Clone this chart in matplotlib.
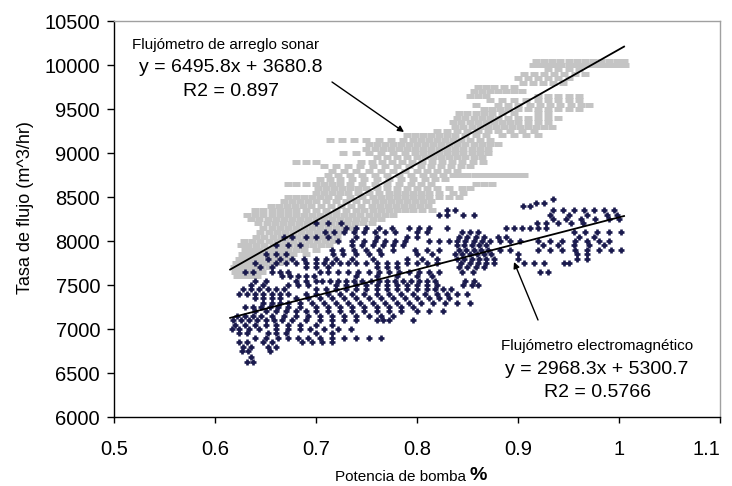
import matplotlib
matplotlib.use("Agg")
import matplotlib.pyplot as plt

# ---- data -------------------------------------------------------------
# Readings grouped by flow level (m^3/hr); each level lists the pump power
# fractions at which that flow was logged.
sonar_flow = [7600, 7650, 7700, 7750, 7800, 7850, 7900, 7950, 8000, 8050,
              8100, 8150, 8200, 8250, 8300, 8350, 8400, 8450, 8500, 8550,
              8600, 8650, 8700, 8750, 8800, 8850, 8900, 8950, 9000, 9050,
              9100, 9150, 9200, 9250, 9300, 9350, 9400, 9450, 9500, 9550,
              9600, 9650, 9700, 9750, 9800, 9850, 9900, 9950, 10000, 10050]
sonar_power = [
    [0.622, 0.629, 0.636, 0.642],
    [0.620, 0.627, 0.633, 0.640, 0.647],
    [0.619, 0.625, 0.632, 0.639, 0.646, 0.653],
    [0.621, 0.628, 0.635, 0.642, 0.649, 0.656, 0.663],
    [0.624, 0.631, 0.638, 0.645, 0.652, 0.659, 0.666, 0.674],
    [0.627, 0.634, 0.641, 0.648, 0.655, 0.662, 0.669, 0.677, 0.690],
    [0.630, 0.637, 0.644, 0.651, 0.658, 0.665, 0.672, 0.680, 0.688, 0.700],
    [0.626, 0.633, 0.641, 0.649, 0.657, 0.665, 0.673, 0.681, 0.689, 0.697, 0.705, 0.713],
    [0.629, 0.637, 0.645, 0.653, 0.661, 0.669, 0.677, 0.685, 0.693, 0.701, 0.709, 0.717],
    [0.641, 0.649, 0.657, 0.665, 0.673, 0.681, 0.689, 0.697, 0.705, 0.713, 0.721],
    [0.645, 0.653, 0.661, 0.669, 0.677, 0.685, 0.693, 0.701, 0.709, 0.717, 0.725],
    [0.648, 0.656, 0.664, 0.672, 0.680, 0.688, 0.696, 0.704, 0.712, 0.720, 0.728, 0.736],
    [0.643, 0.651, 0.659, 0.667, 0.675, 0.683, 0.691, 0.699, 0.707, 0.715, 0.723, 0.731,
     0.739, 0.747, 0.755],
    [0.636, 0.644, 0.652, 0.660, 0.668, 0.676, 0.684, 0.692, 0.700, 0.708, 0.716, 0.724,
     0.732, 0.740, 0.748, 0.756, 0.764],
    [0.632, 0.640, 0.648, 0.656, 0.664, 0.672, 0.680, 0.688, 0.696, 0.704, 0.712, 0.720,
     0.728, 0.736, 0.744, 0.752, 0.760, 0.768, 0.776],
    [0.640, 0.648, 0.656, 0.664, 0.672, 0.680, 0.690, 0.700, 0.710, 0.720, 0.730, 0.740,
     0.748, 0.756, 0.764, 0.772, 0.780, 0.788, 0.796, 0.805, 0.815],
    [0.655, 0.663, 0.671, 0.679, 0.687, 0.695, 0.705, 0.715, 0.725, 0.735, 0.745, 0.755,
     0.763, 0.771, 0.779, 0.787, 0.795, 0.803, 0.811],
    [0.668, 0.676, 0.684, 0.692, 0.700, 0.710, 0.720, 0.730, 0.740, 0.750, 0.758, 0.766,
     0.774, 0.782, 0.790, 0.798, 0.806, 0.814],
    [0.672, 0.680, 0.688, 0.696, 0.704, 0.712, 0.722, 0.734, 0.746, 0.756, 0.764, 0.772,
     0.780, 0.788, 0.796, 0.804, 0.812, 0.822, 0.832, 0.842],
    [0.700, 0.708, 0.716, 0.724, 0.732, 0.742, 0.752, 0.762, 0.772, 0.780, 0.788, 0.796,
     0.804, 0.812, 0.822, 0.836, 0.846],
    [0.702, 0.710, 0.718, 0.726, 0.734, 0.742, 0.750, 0.760, 0.770, 0.780, 0.790, 0.800,
     0.810, 0.820, 0.832, 0.845, 0.852],
    [0.672, 0.680, 0.690, 0.700, 0.708, 0.716, 0.724, 0.734, 0.746, 0.758, 0.770, 0.782,
     0.794, 0.804, 0.814, 0.858, 0.866, 0.874],
    [0.704, 0.714, 0.724, 0.736, 0.748, 0.760, 0.772, 0.784, 0.796, 0.808, 0.818, 0.828],
    [0.712, 0.722, 0.734, 0.746, 0.758, 0.770, 0.782, 0.794, 0.806, 0.816, 0.826, 0.836,
     0.843, 0.850, 0.857, 0.864, 0.871, 0.878, 0.885, 0.892, 0.899, 0.906],
    [0.716, 0.728, 0.740, 0.752, 0.764, 0.776, 0.788, 0.800, 0.810, 0.820, 0.830, 0.840],
    [0.708, 0.720, 0.732, 0.744, 0.756, 0.768, 0.780, 0.792, 0.804, 0.814, 0.824, 0.834,
     0.844, 0.852],
    [0.680, 0.690, 0.700, 0.745, 0.755, 0.765, 0.775, 0.785, 0.795, 0.805, 0.815, 0.825,
     0.835, 0.845, 0.855, 0.865],
    [0.760, 0.770, 0.780, 0.790, 0.800, 0.808, 0.816, 0.824, 0.832, 0.840, 0.848, 0.856,
     0.864],
    [0.727, 0.740, 0.752, 0.764, 0.776, 0.788, 0.798, 0.806, 0.814, 0.822, 0.830, 0.838,
     0.846, 0.854, 0.862, 0.870],
    [0.750, 0.758, 0.766, 0.774, 0.782, 0.790, 0.798, 0.806, 0.814, 0.822, 0.830, 0.838,
     0.846, 0.854, 0.862, 0.870],
    [0.752, 0.760, 0.768, 0.776, 0.784, 0.792, 0.800, 0.808, 0.816, 0.824, 0.832, 0.840,
     0.848, 0.856, 0.864, 0.872, 0.880],
    [0.714, 0.726, 0.738, 0.750, 0.762, 0.774, 0.786, 0.796, 0.804, 0.812, 0.820, 0.828,
     0.836, 0.844, 0.852, 0.862, 0.872],
    [0.790, 0.798, 0.806, 0.814, 0.822, 0.830, 0.838, 0.848, 0.858, 0.868, 0.884, 0.896,
     0.908, 0.920],
    [0.820, 0.830, 0.840, 0.850, 0.860, 0.870, 0.880, 0.892, 0.904, 0.916],
    [0.838, 0.846, 0.854, 0.862, 0.870, 0.878, 0.886, 0.894, 0.902, 0.910, 0.918, 0.926,
     0.934],
    [0.836, 0.844, 0.852, 0.860, 0.868, 0.876, 0.884, 0.892, 0.900, 0.910, 0.920, 0.930],
    [0.840, 0.848, 0.856, 0.864, 0.872, 0.880, 0.890, 0.900, 0.910, 0.920, 0.930, 0.940],
    [0.842, 0.850, 0.858, 0.866, 0.874, 0.884, 0.896, 0.920, 0.930],
    [0.866, 0.874, 0.882, 0.890, 0.900, 0.910, 0.920, 0.930, 0.940, 0.950, 0.960],
    [0.858, 0.880, 0.890, 0.900, 0.912, 0.922, 0.932, 0.942, 0.952, 0.962, 0.970],
    [0.872, 0.884, 0.896, 0.908, 0.920, 0.930, 0.940, 0.950, 0.960],
    [0.852, 0.860, 0.868, 0.920, 0.930, 0.940, 0.950, 0.960],
    [0.856, 0.864, 0.872, 0.880, 0.888, 0.896, 0.904],
    [0.860, 0.868, 0.876, 0.886, 0.896],
    [0.905, 0.915, 0.925, 0.935, 0.945],
    [0.900, 0.910, 0.920, 0.930, 0.940, 0.950],
    [0.906, 0.916, 0.926, 0.936, 0.946, 0.956, 0.966],
    [0.930, 0.940, 0.950, 0.960],
    [0.915, 0.922, 0.929, 0.936, 0.943, 0.950, 0.957, 0.964, 0.971, 0.978, 0.985, 0.992,
     0.999, 1.006],
    [0.918, 0.926, 0.934, 0.942, 0.950, 0.958, 0.966, 0.974, 0.982, 0.990, 0.998, 1.005],
]

em_flow = [8480, 8430, 8400, 8350, 8300, 8250, 8200, 8150, 8100, 8050, 8000,
           7950, 7900, 7850, 7800, 7750, 7700, 7650, 7600, 7550, 7500, 7450,
           7400, 7350, 7300, 7250, 7200, 7150, 7100, 7050, 7000, 6950, 6900,
           6850, 6800, 6750, 6680, 6630]
em_power = [
    [0.935],
    [0.918, 0.926],
    [0.905, 0.912],
    [0.830, 0.838, 0.935, 0.945, 0.955, 0.965, 0.975, 0.985, 0.995],
    [0.822, 0.830, 0.846, 0.856, 0.932, 0.950, 0.968, 0.988, 0.998],
    [0.935, 0.948, 0.962, 0.976, 0.990, 1.000],
    [0.700, 0.712, 0.725, 0.919, 0.928, 0.940, 0.952, 0.964],
    [0.730, 0.740, 0.750, 0.762, 0.775, 0.792, 0.802, 0.812, 0.830, 0.888, 0.896, 0.904,
     0.912, 0.920, 0.928],
    [0.709, 0.718, 0.728, 0.738, 0.748, 0.758, 0.768, 0.778, 0.800, 0.810, 0.845, 0.852,
     0.860, 0.955, 0.966, 0.978, 0.990, 1.002],
    [0.668, 0.676, 0.690, 0.700, 0.712, 0.740, 0.760, 0.790, 0.800, 0.842, 0.850, 0.858,
     0.866, 0.880, 0.888, 0.960, 0.975],
    [0.722, 0.736, 0.748, 0.758, 0.768, 0.778, 0.788, 0.812, 0.822, 0.832, 0.840, 0.848,
     0.856, 0.864, 0.872, 0.882, 0.892, 0.902, 0.920, 0.932, 0.944, 0.956, 0.968, 0.980,
     0.990],
    [0.660, 0.672, 0.684, 0.736, 0.746, 0.756, 0.766, 0.776, 0.786, 0.840, 0.847, 0.854,
     0.861, 0.868, 0.925, 0.940, 0.955, 0.970, 0.985],
    [0.716, 0.726, 0.738, 0.750, 0.762, 0.776, 0.798, 0.810, 0.822, 0.842, 0.849, 0.856,
     0.863, 0.870, 0.882, 0.892, 0.920, 0.932, 0.944, 0.956, 0.968, 0.980, 0.992, 1.002],
    [0.650, 0.660, 0.670, 0.717, 0.727, 0.740, 0.752, 0.764, 0.800, 0.815, 0.838, 0.845,
     0.852, 0.859, 0.866, 0.873, 0.900, 0.958, 0.968],
    [0.652, 0.664, 0.676, 0.688, 0.700, 0.710, 0.720, 0.736, 0.756, 0.790, 0.805, 0.820,
     0.840, 0.847, 0.854, 0.861, 0.868, 0.876, 0.900, 0.958, 0.968],
    [0.640, 0.660, 0.670, 0.680, 0.690, 0.700, 0.708, 0.716, 0.724, 0.732, 0.740, 0.750,
     0.760, 0.770, 0.780, 0.790, 0.800, 0.810, 0.820, 0.844, 0.852, 0.860, 0.868, 0.876,
     0.906, 0.916, 0.926, 0.946, 0.950],
    [0.645, 0.656, 0.690, 0.700, 0.712, 0.760, 0.770, 0.780, 0.842, 0.850, 0.858, 0.866],
    [0.630, 0.638, 0.656, 0.664, 0.672, 0.704, 0.712, 0.722, 0.732, 0.742, 0.752, 0.762,
     0.772, 0.782, 0.792, 0.802, 0.812, 0.822, 0.845, 0.855, 0.922, 0.930],
    [0.666, 0.674, 0.682, 0.690, 0.698, 0.740, 0.760, 0.780, 0.800, 0.815],
    [0.640, 0.650, 0.680, 0.690, 0.700, 0.706, 0.714, 0.722, 0.730, 0.738, 0.746, 0.754,
     0.762, 0.770, 0.778, 0.786, 0.794, 0.802, 0.810, 0.818, 0.848, 0.856],
    [0.636, 0.648, 0.672, 0.682, 0.692, 0.720, 0.730, 0.740, 0.750, 0.760, 0.770, 0.780,
     0.790, 0.800, 0.810, 0.820, 0.846, 0.854, 0.860],
    [0.628, 0.636, 0.644, 0.652, 0.660, 0.668, 0.700, 0.710, 0.720, 0.730, 0.740, 0.750,
     0.760, 0.770, 0.780, 0.790, 0.800, 0.810, 0.818, 0.826, 0.834],
    [0.624, 0.632, 0.640, 0.648, 0.656, 0.664, 0.672, 0.690, 0.700, 0.712, 0.724, 0.736,
     0.748, 0.760, 0.772, 0.784, 0.796, 0.808, 0.820, 0.830, 0.840, 0.850],
    [0.640, 0.648, 0.656, 0.664, 0.680, 0.692, 0.704, 0.716, 0.728, 0.740, 0.752, 0.764,
     0.776, 0.788, 0.800, 0.812, 0.822, 0.832],
    [0.648, 0.656, 0.664, 0.672, 0.684, 0.696, 0.708, 0.720, 0.732, 0.744, 0.756, 0.768,
     0.780, 0.792, 0.804, 0.816, 0.828, 0.840, 0.852],
    [0.630, 0.638, 0.646, 0.654, 0.662, 0.672, 0.684, 0.700, 0.712, 0.724, 0.736, 0.748,
     0.760, 0.772, 0.784, 0.796],
    [0.640, 0.650, 0.660, 0.670, 0.680, 0.690, 0.700, 0.712, 0.724, 0.736, 0.748, 0.760,
     0.772, 0.784, 0.800, 0.812, 0.826],
    [0.622, 0.630, 0.638, 0.646, 0.656, 0.668, 0.680, 0.692, 0.704, 0.716, 0.728, 0.740,
     0.752, 0.764, 0.776],
    [0.618, 0.626, 0.634, 0.642, 0.650, 0.658, 0.666, 0.676, 0.690, 0.704, 0.716, 0.728,
     0.740, 0.760, 0.766, 0.772, 0.796],
    [0.620, 0.630, 0.640, 0.650, 0.660, 0.672, 0.684, 0.700, 0.716],
    [0.617, 0.624, 0.634, 0.644, 0.660, 0.672, 0.684, 0.694, 0.708, 0.722, 0.735],
    [0.624, 0.632, 0.652, 0.660, 0.670, 0.700, 0.716],
    [0.640, 0.650, 0.662, 0.672, 0.682, 0.692, 0.704, 0.716, 0.728, 0.740, 0.752, 0.764],
    [0.624, 0.632, 0.648, 0.656, 0.686, 0.696, 0.706, 0.716],
    [0.628, 0.636, 0.652, 0.660],
    [0.627, 0.633, 0.654],
    [0.636],
    [0.632, 0.638],
]

# Linear fits printed on the chart
sonar_slope, sonar_icpt, sonar_r2 = 6495.8, 3680.8, 0.897
em_slope, em_icpt, em_r2 = 2968.3, 5300.7, 0.5766
fit_range = [0.615, 1.005]

x_ticks = [0.5, 0.6, 0.7, 0.8, 0.9, 1.0, 1.1]
x_tick_labels = ["0.5", "0.6", "0.7", "0.8", "0.9", "1", "1.1"]
y_ticks = [6000, 6500, 7000, 7500, 8000, 8500, 9000, 9500, 10000, 10500]


def flatten(flows, powers):
    xs, ys = [], []
    for f, row in zip(flows, powers):
        xs.extend(row)
        ys.extend([f] * len(row))
    return xs, ys


sx, sy = flatten(sonar_flow, sonar_power)
ex, ey = flatten(em_flow, em_power)

# ---- figure -----------------------------------------------------------
W, H = 732, 486
fig = plt.figure(figsize=(W / 100, H / 100), dpi=100)
ax = fig.add_axes([114 / W, 1 - 417 / H, (720 - 114) / W, (417 - 21) / H])

REG = ["Liberation Sans", "DejaVu Sans"]

ax.plot(sx, sy, linestyle="none", marker="_", ms=6, mew=3.6,
        color="#c4c4c4", zorder=2)
ax.plot(ex, ey, linestyle="none", marker="+", ms=4.8, mew=1.9,
        color="#1b1b4e", zorder=3)

for slope, icpt in [(sonar_slope, sonar_icpt), (em_slope, em_icpt)]:
    ax.plot(fit_range, [slope * fit_range[0] + icpt, slope * fit_range[1] + icpt],
            color="black", lw=1.3, zorder=4)

ax.set_xlim(0.5, 1.1)
ax.set_ylim(6000, 10500)
ax.set_xticks(x_ticks)
ax.set_xticklabels(x_tick_labels, fontfamily=REG, fontsize=14.5)
ax.get_xticklabels()[-1].set_horizontalalignment("right")
ax.set_yticks(y_ticks)
ax.set_yticklabels([str(v) for v in y_ticks], fontfamily=REG, fontsize=14.5)
ax.tick_params(axis="x", direction="out", length=4, width=1, pad=12.5)
ax.tick_params(axis="y", direction="out", length=5, width=1, pad=5)

for side in ("left", "bottom"):
    ax.spines[side].set_color("black")
    ax.spines[side].set_linewidth(1.0)
for side in ("top", "right"):
    ax.spines[side].set_color("#a0a0a0")
    ax.spines[side].set_linewidth(1.0)


def ftext(px, py, s, **kw):
    return fig.text(px / W, 1 - py / H, s, **kw)


# Series annotations
ftext(226, 45, "Flujómetro de arreglo sonar", ha="center", va="center",
      fontfamily=REG, fontsize=11)
ftext(231, 67, f"y = {sonar_slope}x + {sonar_icpt}", ha="center", va="center",
      fontfamily=REG, fontsize=14)
ftext(231, 91, f"R2 = {sonar_r2}", ha="center", va="center",
      fontfamily=REG, fontsize=14)

ftext(597, 346, "Flujómetro electromagnético", ha="center", va="center",
      fontfamily=REG, fontsize=11)
ftext(597, 369, f"y = {em_slope}x + {em_icpt}", ha="center", va="center",
      fontfamily=REG, fontsize=14)
ftext(597, 392, f"R2 = {em_r2}", ha="center", va="center",
      fontfamily=REG, fontsize=14)

arrow = dict(arrowstyle="-|>", color="black", lw=1.0, mutation_scale=9,
             shrinkA=0, shrinkB=0)
ax.annotate("", xy=(404, H - 132), xycoords="figure pixels",
            xytext=(332, H - 82), textcoords="figure pixels", arrowprops=arrow)
ax.annotate("", xy=(514, H - 262), xycoords="figure pixels",
            xytext=(538, H - 320), textcoords="figure pixels", arrowprops=arrow)

# Axis titles
ftext(25, 208, "Tasa de flujo (m^3/hr)", rotation=90, ha="center", va="center",
      fontfamily=REG, fontsize=13)
ftext(466, 477, "Potencia de bomba", ha="right", va="center",
      fontfamily=REG, fontsize=11)
ftext(469, 475, "%", ha="left", va="center", fontfamily=REG, fontsize=14,
      fontweight="bold")

fig.savefig("out.png", dpi=100, facecolor="white")
